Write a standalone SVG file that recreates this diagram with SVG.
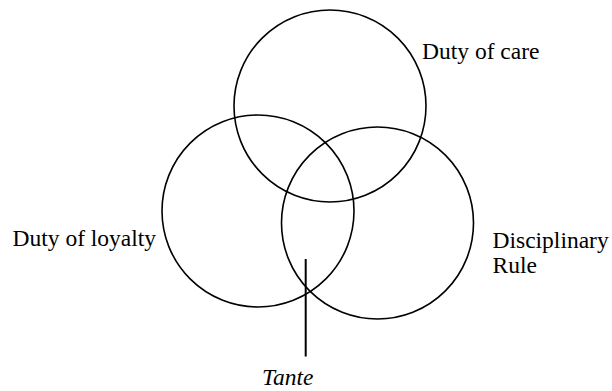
<svg xmlns="http://www.w3.org/2000/svg" width="612" height="391" viewBox="0 0 612 391">
<style>
.c{fill:none;stroke:#000;stroke-width:1.6}
</style>
<rect width="612" height="391" fill="#fff"/>
<g font-family="Liberation Serif, Times New Roman, serif" font-size="23.5" fill="#000">
<g id="care"><circle class="c" cx="330" cy="106" r="96"/><text x="422" y="59">Duty of care</text></g>
<g id="loyalty"><circle class="c" cx="258" cy="211" r="96"/><text x="12.5" y="246">Duty of loyalty</text></g>
<g id="disciplinary"><circle class="c" cx="377.5" cy="223" r="96"/><text x="492.5" y="248">Disciplinary</text><text x="492.5" y="273">Rule</text></g>
<g id="tante"><text x="262" y="385" font-style="italic">Tante</text></g>
</g>
<g id="connectors"><line x1="305.7" y1="259" x2="305.7" y2="356.5" stroke="#000" stroke-width="2"/></g>
</svg>
